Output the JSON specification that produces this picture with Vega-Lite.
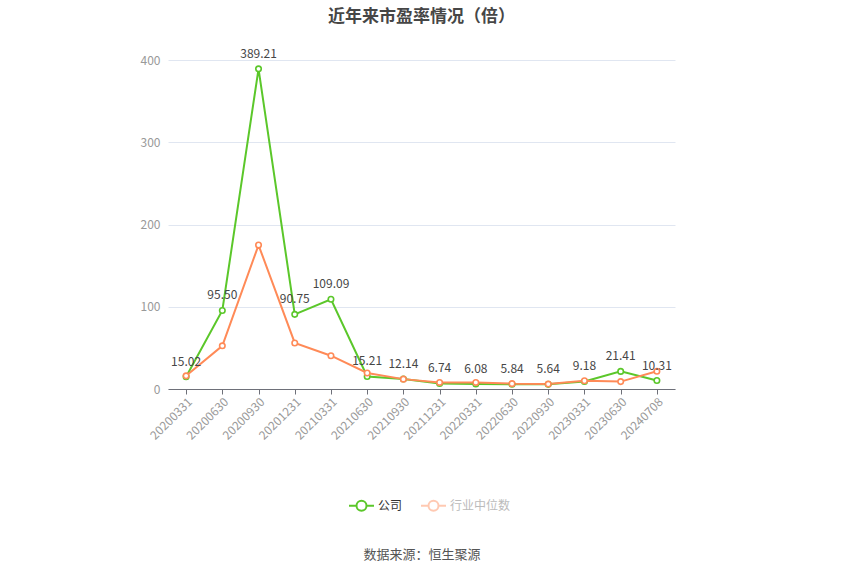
{
  "$schema": "https://vega.github.io/schema/vega-lite/v6.json",
  "width": 507,
  "height": 329,
  "autosize": {"type": "none"},
  "padding": {"left": 168, "top": 60, "right": 175, "bottom": 186},
  "background": "white",
  "config": {
    "font": "Noto Sans CJK SC",
    "view": {"stroke": null}
  },
  "title": {
    "text": "近年来市盈率情况（倍）",
    "fontSize": 17,
    "fontWeight": "bold",
    "color": "#464646",
    "offset": 22,
    "anchor": "middle"
  },
  "data": {
    "values": [
      {"date": "20200331", "series": "公司", "value": 15.02},
      {"date": "20200630", "series": "公司", "value": 95.50},
      {"date": "20200930", "series": "公司", "value": 389.21},
      {"date": "20201231", "series": "公司", "value": 90.75},
      {"date": "20210331", "series": "公司", "value": 109.09},
      {"date": "20210630", "series": "公司", "value": 15.21},
      {"date": "20210930", "series": "公司", "value": 12.14},
      {"date": "20211231", "series": "公司", "value": 6.74},
      {"date": "20220331", "series": "公司", "value": 6.08},
      {"date": "20220630", "series": "公司", "value": 5.84},
      {"date": "20220930", "series": "公司", "value": 5.64},
      {"date": "20230331", "series": "公司", "value": 9.18},
      {"date": "20230630", "series": "公司", "value": 21.41},
      {"date": "20240708", "series": "公司", "value": 10.31},
      {"date": "20200331", "series": "行业中位数", "value": 16},
      {"date": "20200630", "series": "行业中位数", "value": 52.5},
      {"date": "20200930", "series": "行业中位数", "value": 175},
      {"date": "20201231", "series": "行业中位数", "value": 56},
      {"date": "20210331", "series": "行业中位数", "value": 40.5},
      {"date": "20210630", "series": "行业中位数", "value": 19.5},
      {"date": "20210930", "series": "行业中位数", "value": 12},
      {"date": "20211231", "series": "行业中位数", "value": 8},
      {"date": "20220331", "series": "行业中位数", "value": 8},
      {"date": "20220630", "series": "行业中位数", "value": 6.5},
      {"date": "20220930", "series": "行业中位数", "value": 6},
      {"date": "20230331", "series": "行业中位数", "value": 10},
      {"date": "20230630", "series": "行业中位数", "value": 9},
      {"date": "20240708", "series": "行业中位数", "value": 21.5}
    ]
  },
  "encoding": {
    "x": {
      "field": "date",
      "type": "ordinal",
      "sort": null,
      "scale": {"type": "point", "padding": 0.5},
      "axis": {
        "title": "数据来源：恒生聚源",
        "titleFontSize": 13,
        "titleFontWeight": "normal",
        "titleColor": "#555",
        "titleY": 169,
        "titleBaseline": "alphabetic",
        "labelAngle": -45,
        "labelAlign": "right",
        "labelBaseline": "top",
        "labelColor": "#999",
        "labelFontSize": 12,
        "labelPadding": 2,
        "domainColor": "#6E7079",
        "tickColor": "#6E7079",
        "tickSize": 5,
        "grid": false
      }
    },
    "y": {
      "field": "value",
      "type": "quantitative",
      "scale": {"domain": [0, 400]},
      "axis": {
        "title": null,
        "values": [0, 100, 200, 300, 400],
        "labelColor": "#999",
        "labelFontSize": 12,
        "labelPadding": 8,
        "domain": false,
        "ticks": false,
        "gridColor": "#E0E6F1"
      }
    },
    "color": {
      "field": "series",
      "type": "nominal",
      "scale": {"domain": ["公司", "行业中位数"], "range": ["#5BC72A", "#FF8A57"]},
      "legend": null
    }
  },
  "layer": [
    {
      "mark": {"type": "line", "strokeWidth": 2},
      "encoding": {
        "color": {
          "field": "series",
          "type": "nominal",
          "scale": {"domain": ["公司", "行业中位数"], "range": ["#5BC72A", "#FF8A57"]},
          "legend": {
            "title": null,
            "orient": "none",
            "direction": "horizontal",
            "legendX": 180,
            "legendY": 432,
            "symbolType": "M-1,0L-0.4,0M0.4,0L1,0M-0.4,0A0.4,0.4 0 1,1 0.4,0A0.4,0.4 0 1,1 -0.4,0",
            "symbolSize": 625,
            "symbolStrokeWidth": 2,
            "symbolFillColor": "white",
            "symbolOpacity": {"expr": "datum.label == '公司' ? 1 : 0.45"},
            "labelColor": {"expr": "datum.label == '公司' ? '#333' : '#bbb'"},
            "labelFontSize": 12,
            "labelOffset": 3,
            "columnPadding": 14
          }
        }
      }
    },
    {
      "mark": {"type": "point", "shape": "circle", "size": 30, "filled": false, "fill": "white", "strokeWidth": 1.6, "opacity": 1}
    },
    {
      "transform": [{"filter": "datum.series == '公司'"}],
      "mark": {"type": "text", "dy": -15, "baseline": "middle", "fontSize": 12, "color": "#464646"},
      "encoding": {
        "text": {"field": "value", "type": "quantitative", "format": ".2f"},
        "color": {"value": "#464646"}
      }
    }
  ]
}
